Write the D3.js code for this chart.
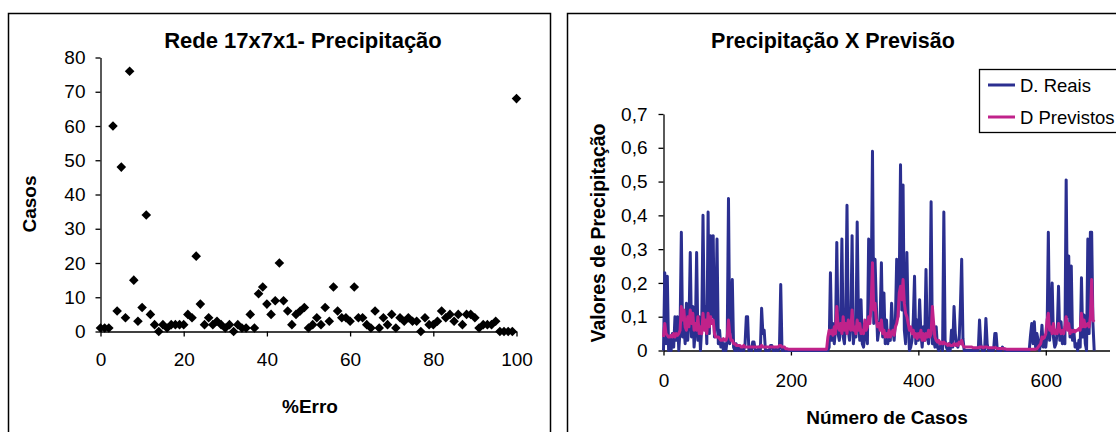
<!DOCTYPE html>
<html>
<head>
<meta charset="utf-8">
<script src="https://cdn.jsdelivr.net/npm/d3@7"></script>
<style>
  body { margin: 0; background: #fff; }
  svg text { font-family: "Liberation Sans", Arial, sans-serif; fill: #000; }
</style>
</head>
<body>
<div id="container"></div>
<script>
/* DATA */
// left chart: %Erro (0..100) vs casos
const erroPct = d3.range(0, 101);
const casos = [1, 1, 1, 60, 6, 48, 4, 76, 15, 3, 7, 34, 5, 2, 0, 2, 1, 2, 2, 2,
  2, 5, 4, 22, 8, 2, 4, 2, 3, 2, 1, 2, 0, 2, 1, 1, 5, 1, 11, 13,
  8, 5, 9, 20, 9, 6, 2, 5, 6, 7, 1, 2, 4, 2, 7, 3, 13, 6, 4, 4,
  3, 13, 4, 4, 2, 1, 6, 1, 4, 2, 5, 1, 4, 3, 4, 3, 3, 0, 4, 2,
  2, 3, 6, 4, 5, 3, 5, 2, 5, 5, 4, 1, 2, 2, 2, 3, 0, 0, 0, 0,
  68];

// right chart: one value every 2 cases (0..676), in hundredths
const passoCasos = 2;
const dReais = [
  0, 23, 2, 22, 0, 4, 0, 5, 1, 10, 3, 10, 0, 6, 35, 4, 7, 2, 14, 3, 8, 29, 4, 13, 1, 6, 29, 3, 10, 0,
  7, 40, 9, 13, 2, 41, 5, 34, 10, 34, 4, 8, 33, 2, 6, 1, 3, 0, 2, 0, 3, 45, 2, 10, 21, 1, 0, 2, 0, 1,
  0, 0, 1, 0, 2, 10, 10, 0, 1, 0, 2.5, 2.5, 0, 0, 0, 1, 0, 12.5, 5, 6, 0, 0, 0, 0, 1.5, 1.5, 0, 0, 0.5, 0,
  0, 1, 19.5, 0, 0, 0.5, 0, 0, 0, 0, 0, 0, 0, 0, 0, 0, 0, 0, 0, 0, 0, 0, 0, 0, 0, 0, 0, 0, 0, 0,
  0, 0, 0, 0, 0, 0, 0, 0, 0, 0, 1, 23, 3, 8, 2, 6, 32, 5, 3, 8, 33, 4, 2, 10, 43, 6, 3, 8, 34, 2,
  6, 4, 38, 9, 3, 15, 2, 1, 5, 8, 2, 33, 10, 18, 59, 8, 27, 14, 3, 6, 9, 26, 4, 17, 2, 9, 2, 5, 3, 14,
  6, 3, 9, 27, 10, 20, 55, 12, 49, 6, 2, 29, 9, 0, 1, 3, 9, 22, 2, 9, 3, 15, 5, 1, 7, 3, 24, 4, 2, 7,
  44, 2, 4, 1, 7, 1, 0, 1, 2, 0, 41, 3, 1, 0, 2, 0, 6, 1, 13, 5, 2, 1, 3, 13, 27, 3.5, 0, 0, 0, 0,
  0, 0, 0, 0, 0, 0, 0, 0, 9, 2, 0, 0, 0, 9.5, 2, 0, 0, 0, 0, 0, 5, 5, 0, 0, 0, 0, 1, 0.5, 0, 0,
  0, 0, 0, 0, 0, 0, 0, 0, 0, 0, 0, 0, 0, 0, 0, 0, 0, 0, 4.5, 8, 2, 8.5, 1, 5, 3, 0, 2, 7.5, 1, 3,
  1, 5, 35, 3, 8, 20, 4, 1, 2, 6, 19, 3, 8.5, 2, 4, 2, 50.5, 10, 28, 4, 25, 3, 6, 1, 2, 0, 3, 1, 21.5, 4,
  10.5, 2, 0, 33, 5, 35, 35, 8, 0
];
const dPrevistos = [
  4, 8, 5, 4.5, 4, 4, 4.5, 4, 5, 4, 5, 4.5, 5, 6, 13, 9, 12, 7, 6, 10, 7, 12, 8, 11, 6, 8, 6, 10, 5, 7,
  5, 11, 6, 9, 5, 11, 7, 10, 8, 9, 5, 4, 4, 4, 3.5, 3, 3, 3.5, 3, 3, 4, 9, 5, 3, 3, 2, 2, 1.5, 1.5, 1.5,
  1.5, 1, 1, 1.5, 1, 1, 1, 1, 1, 1, 1, 1, 1, 1, 1, 1, 1, 1.5, 1, 1, 1, 1, 1, 1, 1, 1, 1, 1, 1, 1,
  1, 1.5, 1.5, 1, 1, 1, 0.5, 0.5, 0.4, 0.4, 0.4, 0.4, 0.4, 0.4, 0.4, 0.4, 0.4, 0.4, 0.4, 0.4, 0.4, 0.4, 0.4, 0.4, 0.4, 0.4, 0.4, 0.4, 0.4, 0.4,
  0.4, 0.4, 0.4, 0.4, 0.4, 0.4, 0.4, 0.4, 0.4, 4, 6, 5, 6, 4.5, 7, 5, 13, 7, 6, 8, 5, 10, 6, 8, 5, 9, 7, 6, 12, 6,
  7, 5, 9, 6, 8, 5, 6, 5, 9, 6, 7, 10, 8, 14, 26, 12, 14, 9, 7, 8, 6, 9, 5, 6, 4, 5, 4, 6, 4, 5,
  6, 4.5, 7, 8, 10, 17, 19, 15, 21, 14, 11, 10, 8, 6, 7, 5, 6, 4, 5, 3.5, 5, 4, 6, 3, 5, 3, 5, 4, 6, 4,
  5, 13, 8, 4, 3, 2.5, 3, 2, 2.5, 2, 2.5, 2, 2, 1.5, 2, 1.5, 1.5, 1.5, 2, 1.5, 2, 1.5, 2.5, 2, 3, 1.5, 1, 1, 1, 1,
  1, 1, 1, 0.8, 0.8, 0.8, 0.8, 0.8, 1, 1, 1, 0.8, 1, 1, 1, 0.8, 0.8, 0.8, 0.8, 0.8, 0.8, 0.8, 0.6, 0.6, 0.6, 0.6, 0.6, 0.5, 0.5, 0.4,
  0.4, 0.4, 0.4, 0.4, 0.4, 0.4, 0.4, 0.4, 0.4, 0.4, 0.4, 0.4, 0.4, 0.4, 0.4, 0.4, 0.4, 0.4, 0.4, 0.4, 0.4, 0.4, 0.4, 0.5, 1, 1.5, 2, 4, 3.5, 4,
  5, 9, 11, 6, 7, 5, 8, 5, 6, 5, 8, 6, 5, 6, 5, 7, 10, 6, 8, 5, 6, 5.5, 6, 5.5, 6, 6, 6.5, 6, 11, 7,
  9, 7, 7.5, 8, 7, 10, 21, 9, 8.5
];

const yTicksEsq = [0, 10, 20, 30, 40, 50, 60, 70, 80];
const xTicksEsq = [0, 20, 40, 60, 80, 100];
const yTicksDir = [0, 0.1, 0.2, 0.3, 0.4, 0.5, 0.6, 0.7];
const xTicksDir = [0, 200, 400, 600];
const series = ["D. Reais", "D Previstos"];
const cores = ["#2b2f90", "#c0228a"];

/* SVG */
const width = 1116, height = 432;
const svg = d3.select("#container").append("svg")
  .attr("width", width).attr("height", height);

// panel frames
svg.append("rect").attr("x", 8.5).attr("y", 13.5).attr("width", 542).attr("height", 440)
  .attr("fill", "none").attr("stroke", "#000").attr("stroke-width", 1.5);
svg.append("rect").attr("x", 567.5).attr("y", 13.5).attr("width", 600).attr("height", 440)
  .attr("fill", "none").attr("stroke", "#000").attr("stroke-width", 1.5);

function styleAxis(g) {
  g.selectAll("path, line").attr("stroke", "#000").attr("stroke-width", 1.3);
  g.selectAll("text").attr("font-size", 19).attr("font-family", "Liberation Sans, Arial, sans-serif");
}

/* LEFT: scatter */
const xL = d3.scaleLinear().domain([0, 100]).range([100.5, 516.5]);
const yL = d3.scaleLinear().domain([0, 80]).range([331.5, 57.5]);

svg.append("g").attr("transform", "translate(0,331.5)")
  .call(d3.axisBottom(xL).tickValues(xTicksEsq).tickSize(5).tickSizeOuter(0).tickPadding(16))
  .call(styleAxis);
svg.append("g").attr("transform", "translate(100.5,0)")
  .call(d3.axisLeft(yL).tickValues(yTicksEsq).tickSize(5).tickSizeOuter(0).tickPadding(10))
  .call(styleAxis);

svg.append("g").selectAll("path")
  .data(erroPct.map((e, i) => ({ e, c: casos[i] })))
  .join("path")
  .attr("transform", d => `translate(${xL(d.e)},${yL(d.c)}) rotate(45)`)
  .attr("d", d3.symbol().type(d3.symbolSquare).size(46))
  .attr("fill", "#000");

svg.append("text").attr("x", 303).attr("y", 48).attr("text-anchor", "middle")
  .attr("font-size", 22).attr("font-weight", "bold").text("Rede 17x7x1- Precipitação");
svg.append("text").attr("x", 310).attr("y", 413).attr("text-anchor", "middle")
  .attr("font-size", 19).attr("font-weight", "bold").text("%Erro");
svg.append("text").attr("transform", "translate(36,204) rotate(-90)").attr("text-anchor", "middle")
  .attr("font-size", 19).attr("font-weight", "bold").text("Casos");

/* RIGHT: lines */
const xR = d3.scaleLinear().domain([0, 700]).range([663.5, 1109.5]);
const yR = d3.scaleLinear().domain([0, 0.7]).range([350.5, 114]);

svg.append("g").attr("transform", "translate(0,350.5)")
  .call(d3.axisBottom(xR).tickValues(xTicksDir).tickSize(5).tickSizeOuter(0).tickPadding(18))
  .call(styleAxis);
svg.append("g").attr("transform", "translate(663.5,0)")
  .call(d3.axisLeft(yR).tickValues(yTicksDir).tickSize(5).tickSizeOuter(0).tickPadding(11)
    .tickFormat(d => d3.format(".1f")(d).replace(".", ",").replace(/^0,0$/, "0")))
  .call(styleAxis);

const lineGen = d3.line()
  .x((d, i) => xR(i * passoCasos))
  .y(d => yR(d / 100));

[dReais, dPrevistos].forEach((s, k) => {
  svg.append("path").datum(s)
    .attr("fill", "none").attr("stroke", cores[k]).attr("stroke-width", 3)
    .attr("stroke-linejoin", "round")
    .attr("d", lineGen);
});

svg.append("text").attr("x", 833).attr("y", 48).attr("text-anchor", "middle")
  .attr("font-size", 21.5).attr("font-weight", "bold").text("Precipitação X Previsão");
svg.append("text").attr("x", 887).attr("y", 424).attr("text-anchor", "middle")
  .attr("font-size", 19).attr("font-weight", "bold").text("Número de Casos");
svg.append("text").attr("transform", "translate(605,233) rotate(-90)").attr("text-anchor", "middle")
  .attr("font-size", 19.5).attr("font-weight", "bold").text("Valores de Precipitação");

// legend
const leg = svg.append("g");
leg.append("rect").attr("x", 979.5).attr("y", 69.5).attr("width", 200).attr("height", 63)
  .attr("fill", "#fff").attr("stroke", "#000").attr("stroke-width", 1.3);
series.forEach((s, k) => {
  const y = 85 + k * 32;
  leg.append("line").attr("x1", 988).attr("x2", 1015).attr("y1", y).attr("y2", y)
    .attr("stroke", cores[k]).attr("stroke-width", 3);
  leg.append("text").attr("x", 1020).attr("y", y + 6.5).attr("font-size", 18.5).text(s);
});
</script>
</body>
</html>
